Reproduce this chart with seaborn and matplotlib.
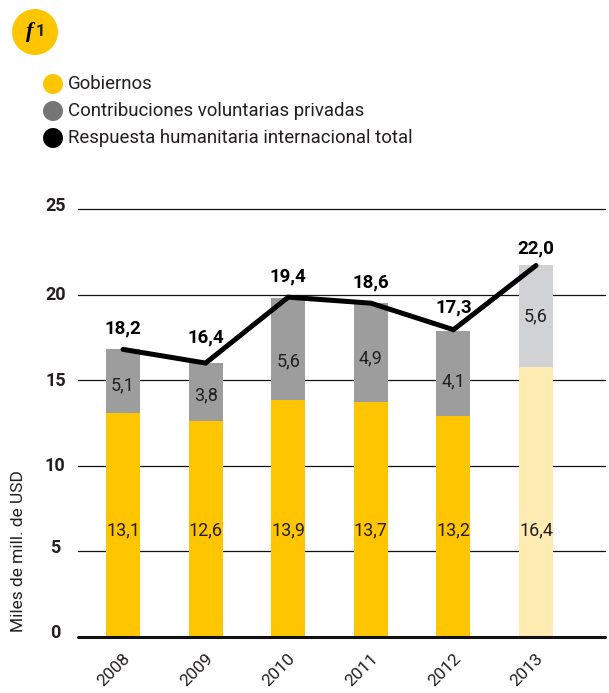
import numpy as np
import pandas as pd
import matplotlib
matplotlib.use("Agg")
import matplotlib.pyplot as plt
from matplotlib.patches import Ellipse
from matplotlib.transforms import ScaledTranslation
import seaborn as sns

years = ["2008", "2009", "2010", "2011", "2012", "2013"]
gobiernos = [13.1, 12.6, 13.85, 13.7, 12.9, 15.8]
privadas = [3.7, 3.4, 5.95, 5.8, 5.0, 5.9]
total = [16.8, 16.0, 19.85, 19.5, 17.95, 21.7]
gob_labels = ["13,1", "12,6", "13,9", "13,7", "13,2", "16,4"]
priv_labels = ["5,1", "3,8", "5,6", "4,9", "4,1", "5,6"]
total_labels = ["18,2", "16,4", "19,4", "18,6", "17,3", "22,0"]
legend_labels = ["Gobiernos", "Contribuciones voluntarias privadas",
                 "Respuesta humanitaria internacional total"]
y_ticks = [0, 5, 10, 15, 20, 25]

YELLOW, GREY = "#FFC600", "#9D9D9D"
YELLOW_L, GREY_L = "#FEECB3", "#D1D2D4"
LEG_GREY = "#757575"
INK = "#231F20"

W, H = 609, 693
sns.set_theme(style="white")
plt.rcParams["font.family"] = ["Roboto", "DejaVu Sans"]

fig = plt.figure(figsize=(W / 100, H / 100), dpi=100, facecolor="white")
L, R, T, B = 78, 605, 209, 637
ax = fig.add_axes([L / W, 1 - B / H, (R - L) / W, (B - T) / H])

df = pd.DataFrame({"year": years, "gob": gobiernos, "priv": privadas})
df["stack"] = df["gob"] + df["priv"]
gob_cols = [YELLOW] * 5 + [YELLOW_L]
priv_cols = [GREY] * 5 + [GREY_L]
sns.barplot(data=df, x="year", y="stack", hue="year", palette=priv_cols, legend=False,
            width=0.41, ax=ax, zorder=3, saturation=1, linewidth=0, edgecolor="none")
sns.barplot(data=df, x="year", y="gob", hue="year", palette=gob_cols, legend=False,
            width=0.41, ax=ax, zorder=4, saturation=1, linewidth=0, edgecolor="none")
pos = np.arange(len(years))
sns.lineplot(x=pos, y=total, color="black", lw=3.6, ax=ax, zorder=5, sort=False,
             errorbar=None, solid_capstyle="round", solid_joinstyle="miter")

ax.set_xlim(-0.545, 5.835)
ax.set_ylim(0, 25)
for s in ax.spines.values():
    s.set_visible(False)
ax.set_xlabel("")
ax.set_ylabel("")

for v in y_ticks[1:]:
    ax.axhline(v, color="#111111", lw=0.9, zorder=1, clip_on=False)
ax.axhline(0, color="#111111", lw=2.2, zorder=6, clip_on=False)

ax.set_yticks(y_ticks)
ax.set_yticklabels([str(v) for v in y_ticks], fontsize=13, fontweight="bold", color=INK)
ax.tick_params(axis="y", length=0, pad=12)
for lab, dy in zip(ax.get_yticklabels(), [6, 5, 2, 1, 2, 5]):
    lab.set_horizontalalignment("center")
    lab.set_transform(lab.get_transform() +
                      ScaledTranslation(-6 / 100, dy / 100, fig.dpi_scale_trans))

ax.set_xticks(pos)
ax.set_xticklabels(years, rotation=45, fontsize=12.5, color=INK, ha="center", va="center")
ax.tick_params(axis="x", length=0, pad=0)
for lab in ax.get_xticklabels():
    lab.set_transform(lab.get_transform() +
                      ScaledTranslation(-9 / 100, -33 / 100, fig.dpi_scale_trans))


def yv(py):
    return (B - py) / (B - T) * 25


gob_py = [530] * 6
priv_py = [385, 395, 361, 358, 381, 316]
total_py = [328, 337, 276, 282, 307, 248]
for i in pos:
    ax.text(i, yv(gob_py[i]), gob_labels[i], ha="center", va="center",
            fontsize=13, color=INK, zorder=7)
    ax.text(i, yv(priv_py[i]), priv_labels[i], ha="center", va="center",
            fontsize=13, color=INK, zorder=7)
    ax.text(i, yv(total_py[i]), total_labels[i], ha="center", va="center",
            fontsize=13.5, fontweight="bold", color="black", zorder=7)

fig.text(19 / W, 1 - 551 / H, "Miles de mill. de USD", rotation=90, ha="center",
         va="center", fontsize=12.5, color=INK)

# badge
fig.add_artist(Ellipse((35 / W, 1 - 32 / H), 46 / W, 46 / H, transform=fig.transFigure,
                       facecolor=YELLOW, edgecolor="none"))
fig.text(30 / W, 1 - 32 / H, "f", style="italic", fontweight="bold", fontsize=16,
         ha="center", va="center", color="black", family=["Liberation Serif", "DejaVu Sans"])
fig.text(40 / W, 1 - 32 / H, "1", fontweight="bold", fontsize=12, ha="center",
         va="center", color=INK)

# legend
for py, col, txt in zip([84, 111, 138], [YELLOW, LEG_GREY, "black"], legend_labels):
    fig.add_artist(Ellipse((53 / W, 1 - py / H), 20 / W, 20 / H, transform=fig.transFigure,
                           facecolor=col, edgecolor="none"))
    fig.text(68 / W, 1 - py / H, txt, ha="left", va="center", fontsize=13.4, color=INK)

fig.savefig("out.png", dpi=100)
